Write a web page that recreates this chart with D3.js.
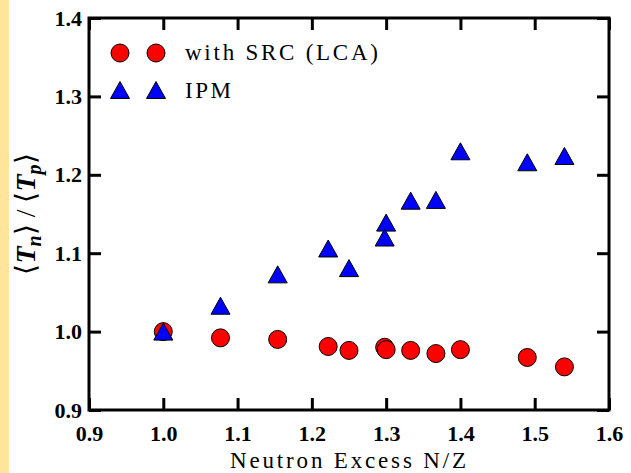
<!DOCTYPE html>
<html><head><meta charset="utf-8">
<script src="https://cdn.jsdelivr.net/npm/d3@7"></script>
</head><body style="margin:0">
<script>
const srcX = [1.0, 1.077, 1.154, 1.222, 1.25, 1.298, 1.30, 1.333, 1.367, 1.40, 1.49, 1.54];
const srcY = [1.0, 0.992, 0.990, 0.981, 0.976, 0.980, 0.977, 0.976, 0.972, 0.977, 0.967, 0.955];
const ipmX = [1.0, 1.077, 1.154, 1.222, 1.25, 1.30, 1.298, 1.333, 1.367, 1.40, 1.49, 1.54];
const ipmY = [1.0, 1.033, 1.073, 1.106, 1.081, 1.139, 1.120, 1.167, 1.168, 1.230, 1.216, 1.224];
const xTicks = [0.9, 1.0, 1.1, 1.2, 1.3, 1.4, 1.5, 1.6];
const yTicks = [0.9, 1.0, 1.1, 1.2, 1.3, 1.4];
const legendLabels = ["with SRC (LCA)", "IPM"];

const W = 631, H = 473;
const L = 89, R = 609, T = 18, B = 410;
const fontName = ["Liberation", "Serif"].join(" ");
const fam = `"${fontName}"`;
const svg = d3.select("body").append("svg").attr("width", W).attr("height", H).style("display", "block");
svg.append("rect").attr("x", 0).attr("y", 0).attr("width", 9).attr("height", H).attr("fill", "#ffe49c");

const x = d3.scaleLinear().domain([0.9, 1.6]).range([L, R]);
const y = d3.scaleLinear().domain([0.9, 1.4]).range([B, T]);
const tickLen = 12;

function styleAxis(g){
  g.attr("font-family", null).attr("font-size", null);
  g.select(".domain").remove();
  g.selectAll(".tick line").attr("stroke", "#000").attr("stroke-width", 3);
  g.selectAll(".tick text").style("font-family", fam).attr("font-weight", "bold").attr("font-size", 22).attr("fill", "#000");
}
// bottom
svg.append("g").attr("transform", `translate(0,${B})`)
  .call(d3.axisBottom(x).tickValues(xTicks).tickFormat(d3.format(".1f")).tickSizeInner(-tickLen).tickPadding(0))
  .call(styleAxis).call(g => g.selectAll(".tick text").attr("dy", null).attr("y", 31));
// top
svg.append("g").attr("transform", `translate(0,${T})`)
  .call(d3.axisTop(x).tickValues(xTicks).tickFormat("").tickSizeInner(-tickLen)).call(styleAxis);
// left
svg.append("g").attr("transform", `translate(${L},0)`)
  .call(d3.axisLeft(y).tickValues(yTicks).tickFormat(d3.format(".1f")).tickSizeInner(-tickLen).tickPadding(0))
  .call(styleAxis).call(g => g.selectAll(".tick text").attr("x", -7));
// right
svg.append("g").attr("transform", `translate(${R},0)`)
  .call(d3.axisRight(y).tickValues(yTicks).tickFormat("").tickSizeInner(-tickLen)).call(styleAxis);

svg.append("rect").attr("x", L).attr("y", T).attr("width", R - L).attr("height", B - T)
  .attr("fill", "none").attr("stroke", "#000").attr("stroke-width", 3);

const tri = (w, h) => `M0,${-h/2}L${w/2},${h/2}L${-w/2},${h/2}Z`;

svg.append("g").selectAll("circle").data(srcX.map((d, i) => [d, srcY[i]])).join("circle")
  .attr("cx", d => x(d[0])).attr("cy", d => y(d[1])).attr("r", 9)
  .attr("fill", "#ff0000").attr("stroke", "#000").attr("stroke-width", 1);

svg.append("g").selectAll("path").data(ipmX.map((d, i) => [d, ipmY[i]])).join("path")
  .attr("d", tri(19, 17)).attr("transform", d => `translate(${x(d[0])},${y(d[1])})`)
  .attr("fill", "#0000ff").attr("stroke", "#000").attr("stroke-width", 1);

// legend
[120, 156].forEach(cx => {
  svg.append("circle").attr("cx", cx).attr("cy", 53).attr("r", 9).attr("fill", "#ff0000").attr("stroke", "#000");
  svg.append("path").attr("d", tri(19, 17)).attr("transform", `translate(${cx},90)`).attr("fill", "#0000ff").attr("stroke", "#000");
});
svg.append("text").attr("x", 185).attr("y", 60).attr("font-size", 23).style("font-family", fam)
  .attr("textLength", 193).attr("lengthAdjust", "spacing").text(legendLabels[0]);
svg.append("text").attr("x", 185).attr("y", 98).attr("font-size", 23).style("font-family", fam)
  .attr("textLength", 46).attr("lengthAdjust", "spacing").text(legendLabels[1]);

// axis labels
svg.append("text").attr("x", 230).attr("y", 468).attr("font-size", 23).style("font-family", fam)
  .attr("textLength", 236).attr("lengthAdjust", "spacing").text("Neutron Excess N/Z");

const yl = svg.append("text").attr("transform", `translate(35,${(T + B) / 2}) rotate(-90)`)
  .attr("text-anchor", "middle").attr("font-size", 28).style("font-family", fam);
yl.append("tspan").text("⟨");
yl.append("tspan").text("T").attr("font-weight", "bold").attr("font-style", "italic");
yl.append("tspan").text("n").attr("font-weight", "bold").attr("font-style", "italic").attr("font-size", 20).attr("dy", 6);
yl.append("tspan").text("⟩ / ⟨").attr("dy", -6);
yl.append("tspan").text("T").attr("font-weight", "bold").attr("font-style", "italic");
yl.append("tspan").text("p").attr("font-weight", "bold").attr("font-style", "italic").attr("font-size", 20).attr("dy", 6);
yl.append("tspan").text("⟩").attr("dy", -6);
</script>
</body></html>
